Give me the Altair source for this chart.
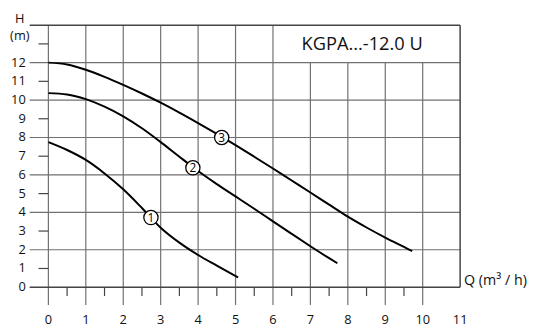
import altair as alt
import pandas as pd

# ---- data ----
q1 = [0, 0.5, 1, 1.5, 2, 2.5, 3, 3.5, 4, 4.5, 5.07]
h1 = [7.75, 7.33, 6.80, 6.08, 5.23, 4.23, 3.18, 2.38, 1.72, 1.15, 0.52]

q2 = [0, 0.5, 1, 1.5, 2, 2.5, 3, 3.5, 4, 4.5, 5, 5.5, 6, 6.5, 7, 7.5, 7.72]
h2 = [10.37, 10.30, 10.05, 9.65, 9.13, 8.49, 7.75, 6.97, 6.21, 5.51, 4.85, 4.19, 3.52, 2.85, 2.19, 1.55, 1.28]

q3 = [0, 0.5, 1, 1.5, 2, 2.5, 3, 3.5, 4, 4.5, 5, 5.5, 6, 6.5, 7, 7.5, 8, 8.5, 9, 9.5, 9.72]
h3 = [12.0, 11.90, 11.62, 11.24, 10.81, 10.35, 9.86, 9.33, 8.77, 8.19, 7.59, 6.97, 6.34, 5.70, 5.06, 4.41, 3.77, 3.19, 2.65, 2.15, 1.93]

marker_labels = ["1", "2", "3"]
marker_q = [2.74, 3.86, 4.63]
marker_h = [3.72, 6.38, 8.0]

x_ticks = list(range(0, 12))
x_half_ticks = [i + 0.5 for i in range(0, 10)]
y_labels = list(range(0, 13))
y_even = list(range(0, 15, 2))
y_odd = list(range(1, 15, 2))
v_tops = [14, 14, 14, 14, 14, 14, 14, 12, 12, 12, 12]

title_text = "KGPA...-12.0 U"
x_title = "Q (m³ / h)"
y_title_1 = "H"
y_title_2 = "(m)"

FONT = "Open Sans"
GRID = "#707070"
FRAME = "#444444"

curves = pd.concat([
    pd.DataFrame({"Q": q1, "H": h1, "s": "1"}),
    pd.DataFrame({"Q": q2, "H": h2, "s": "2"}),
    pd.DataFrame({"Q": q3, "H": h3, "s": "3"}),
])

xs = alt.Scale(domain=[0, 11], nice=False, zero=False)
ys = alt.Scale(domain=[0, 14], nice=False, zero=False)
X = lambda f: alt.X(f, scale=xs, axis=None)
Y = lambda f: alt.Y(f, scale=ys, axis=None)

# horizontal grid lines (even H), extending left of the plot
hlines = alt.Chart(pd.DataFrame({"H": [v for v in y_even if v not in (0, 14)]})).mark_rule(
    color=GRID, strokeWidth=1.2).encode(x=alt.value(-19), x2=alt.value(418), y=Y("H:Q"))
hframe = alt.Chart(pd.DataFrame({"H": [0, 14]})).mark_rule(
    color=FRAME, strokeWidth=1.5).encode(x=alt.value(-19), x2=alt.value(418), y=Y("H:Q"))
# odd H ticks
hticks = alt.Chart(pd.DataFrame({"H": y_odd})).mark_rule(
    color=FRAME, strokeWidth=1.2).encode(x=alt.value(-10), x2=alt.value(0), y=Y("H:Q"))
# vertical grid lines
vlines = alt.Chart(pd.DataFrame({"Q": x_ticks[:-1], "top": v_tops})).mark_rule(
    color=GRID, strokeWidth=1.2).encode(x=X("Q:Q"), y=Y("top:Q"), y2=alt.value(284))
vframe = alt.Chart(pd.DataFrame({"Q": [11], "top": [14], "bot": [0]})).mark_rule(
    color=FRAME, strokeWidth=1.5).encode(x=X("Q:Q"), y=Y("top:Q"), y2="bot:Q")
# half ticks below the axis
vticks = alt.Chart(pd.DataFrame({"Q": x_half_ticks})).mark_rule(
    color=FRAME, strokeWidth=1.2).encode(x=X("Q:Q"), y=alt.value(266), y2=alt.value(275))

lines = alt.Chart(curves).mark_line(
    interpolate="monotone", color="black", strokeWidth=2).encode(
    x=X("Q:Q"), y=Y("H:Q"), detail="s:N")

mk = pd.DataFrame({"Q": marker_q, "H": marker_h, "t": marker_labels})
circles = alt.Chart(mk).mark_point(
    shape="circle", filled=True, fill="white", stroke="black", strokeWidth=1.3,
    size=210, opacity=1).encode(x=X("Q:Q"), y=Y("H:Q"))
ctext = alt.Chart(mk).mark_text(
    font=FONT, fontSize=12, color="black", baseline="middle", align="center", dy=0.5).encode(
    x=X("Q:Q"), y=Y("H:Q"), text="t:N")

ylab = alt.Chart(pd.DataFrame({"H": y_labels})).mark_text(
    font=FONT, fontSize=13, color="#111", align="right", baseline="middle").encode(
    x=alt.value(-23), y=Y("H:Q"), text="H:Q")
xlab = alt.Chart(pd.DataFrame({"Q": x_ticks})).mark_text(
    font=FONT, fontSize=13, color="#111", align="center", baseline="middle").encode(
    x=X("Q:Q"), y=alt.value(299), text="Q:Q")

def label(txt, x, y, size, align="center"):
    return alt.Chart(pd.DataFrame({"t": [txt]})).mark_text(
        font=FONT, fontSize=size, color="#111", align=align, baseline="alphabetic").encode(
        x=alt.value(x), y=alt.value(y), text="t:N")

chart = alt.layer(
    hlines, vlines, hticks, vticks, hframe, vframe, lines, circles, ctext, ylab, xlab,
    label(y_title_1, -29, -2, 13),
    label(y_title_2, -29, 15, 13),
    label(title_text, 318.5, 25.5, 18.5),
    label(x_title, 422, 264, 14.5, align="left"),
).properties(
    width=418, height=266,
    padding={"left": 41, "top": 15, "right": 75, "bottom": 40},
    autosize=alt.AutoSizeParams(type="none"),
    background="white",
).configure_view(stroke=None)

chart.save("out.html", embed_options={"renderer": "svg", "actions": False})
